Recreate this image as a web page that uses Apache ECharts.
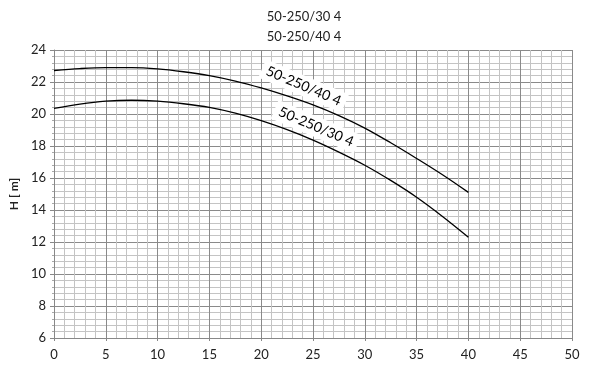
<!DOCTYPE html>
<html>
<head>
<meta charset="utf-8">
<script src="https://cdn.jsdelivr.net/npm/echarts@6/dist/echarts.min.js"></script>
<style>html,body{margin:0;padding:0;background:#fff}#c{width:608px;height:377px}</style>
</head>
<body>
<div id="c"></div>
<script>
var titleLines = ['50-250/30 4', '50-250/40 4'];
var yAxisName = 'H [ m]';
var flow = [0, 2.5, 5, 7.5, 10, 12.5, 15, 17.5, 20, 22.5, 25, 27.5, 30, 32.5, 35, 37.5, 40];
var head40 = [22.72, 22.84, 22.9, 22.9, 22.82, 22.64, 22.4, 22.06, 21.63, 21.13, 20.57, 19.9, 19.12, 18.2, 17.22, 16.2, 15.1];
var head30 = [20.35, 20.62, 20.8, 20.86, 20.8, 20.64, 20.41, 20.05, 19.58, 19.02, 18.37, 17.62, 16.8, 15.85, 14.8, 13.6, 12.3];
var curveNames = ['50-250/40 4', '50-250/30 4'];
var labelPos40 = [24.1, 21.75];
var labelPos30 = [25.3, 19.2];

function pairs(xs, ys) { return xs.map(function (x, i) { return [x, ys[i]]; }); }

var font = 'Lato, "Open Sans", sans-serif';
var chart = echarts.init(document.getElementById('c'), null, { renderer: 'canvas' });

function lineSeries(name, data, pos) {
  return {
    type: 'line', name: name, data: pairs(flow, data), smooth: 0.35, symbol: 'none',
    lineStyle: { color: '#000', width: 1.3 },
    z: 4,
    markPoint: {
      z: 1,
      symbol: 'circle', symbolSize: 0,
      data: [{ coord: pos, value: name }],
      label: {
        show: true, formatter: name, rotate: -23, color: '#000',
        fontFamily: font, fontSize: 14, backgroundColor: '#fff',
        padding: [3, 5], position: 'inside'
      }
    }
  };
}

chart.setOption({
  animation: false,
  backgroundColor: '#fff',
  title: {
    text: titleLines.join('\n'), left: 'center', top: 2,
    textStyle: { fontFamily: font, fontSize: 13, fontWeight: 'normal', color: '#222', lineHeight: 20 }
  },
  grid: { left: 54, right: 36, top: 50, bottom: 39 },
  xAxis: {
    type: 'value', min: 0, max: 50, interval: 5,
    axisLine: { lineStyle: { color: '#888' } },
    axisTick: { show: true, length: 3, lineStyle: { color: '#888' } },
    axisLabel: { color: '#222', fontFamily: font, fontSize: 13, margin: 10 },
    splitLine: { show: true, lineStyle: { color: '#8a8a8a', width: 1 } },
    minorTick: { show: false, splitNumber: 5 },
    minorSplitLine: { show: true, lineStyle: { color: '#c4c4c4', width: 1 } }
  },
  yAxis: {
    type: 'value', min: 6, max: 24, interval: 2,
    name: yAxisName, nameLocation: 'middle', nameGap: 27, nameRotate: 90,
    nameTextStyle: { fontFamily: font, fontSize: 12, fontWeight: 'bold', color: '#222' },
    axisLine: { show: true, lineStyle: { color: '#888' } },
    axisTick: { show: true, length: 4, lineStyle: { color: '#888' } },
    axisLabel: { color: '#222', fontFamily: font, fontSize: 13, margin: 8 },
    splitLine: { show: true, lineStyle: { color: '#8a8a8a', width: 1 } },
    minorTick: { show: true, splitNumber: 5, length: 2, lineStyle: { color: '#aaa' } },
    minorSplitLine: { show: true, lineStyle: { color: '#c4c4c4', width: 1 } }
  },
  series: [
    lineSeries(curveNames[0], head40, labelPos40),
    lineSeries(curveNames[1], head30, labelPos30)
  ]
});
</script>
</body>
</html>
